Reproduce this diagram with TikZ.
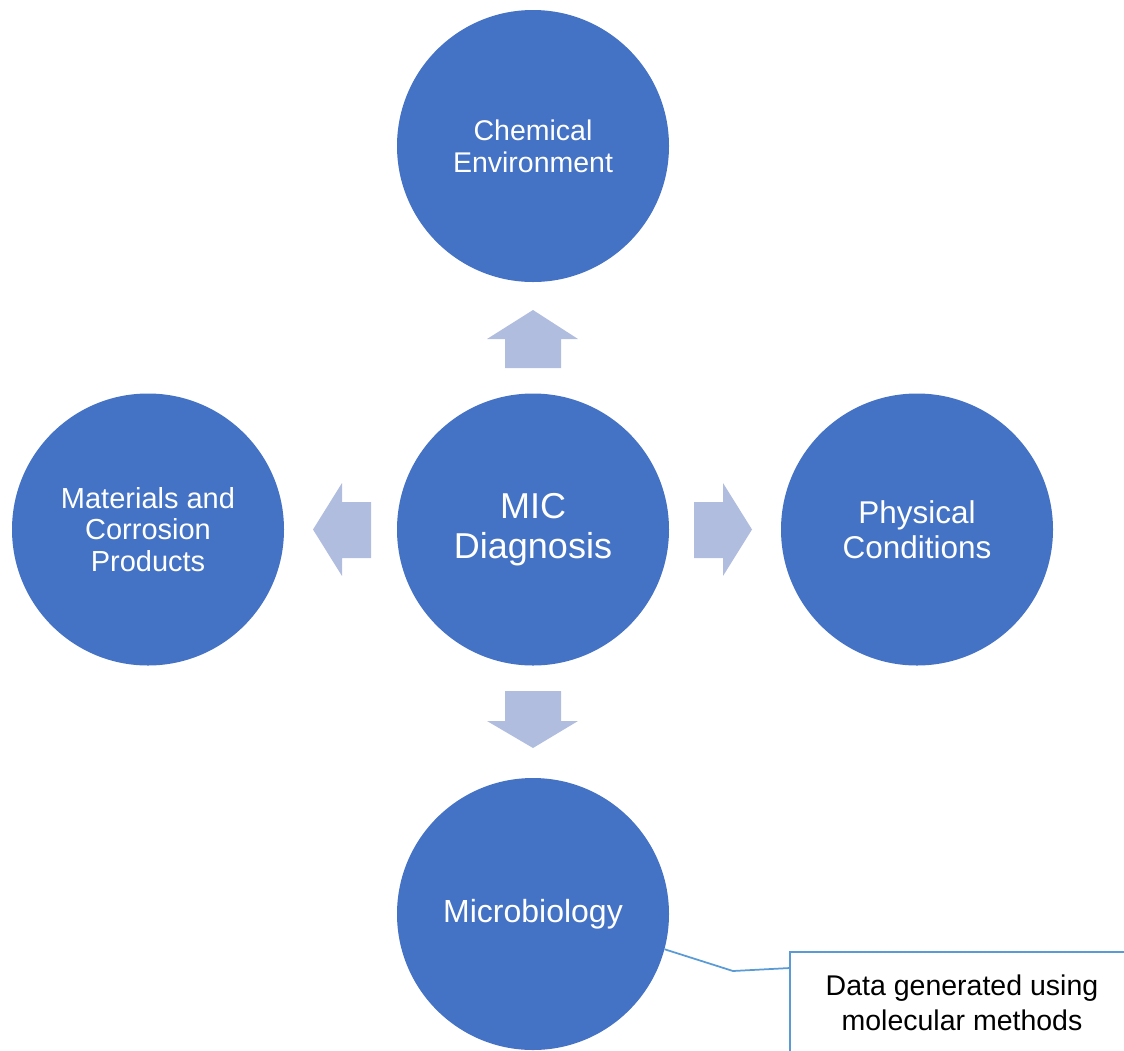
\documentclass[tikz,border=0pt]{standalone}
\usepackage{fontspec}
\setmainfont{Liberation Sans}
\definecolor{circblue}{HTML}{4472C4}
\definecolor{arrowblue}{HTML}{B0BDDF}
\definecolor{lineblue}{HTML}{5B9BD5}
\begin{document}
\begin{tikzpicture}[x=1pt,y=-1pt,
  bigcirc/.style={circle, fill=circblue, draw=none, minimum size=272pt, inner sep=0pt, text=white, align=center},
  blockarrow/.style={fill=arrowblue, draw=none},
  calloutline/.style={draw=lineblue, line width=2pt}
]
\useasboundingbox (0,0) rectangle (1124,1050);
% circles
\node[bigcirc, font=\fontsize{36}{40}\selectfont] (mic) at (533,529.5) {MIC\\Diagnosis};
\node[bigcirc, font=\fontsize{28.5}{32}\selectfont] (chem) at (533,146) {Chemical\\Environment};
\node[bigcirc, font=\fontsize{29}{31.5}\selectfont] (mat) at (148,529.5) {Materials and\\Corrosion\\Products};
\node[bigcirc, font=\fontsize{31.5}{35}\selectfont] (phys) at (917,529.5) {Physical\\Conditions};
\node[bigcirc, font=\fontsize{32}{35}\selectfont] (micro) at (533,914) {Microbiology};
% block arrows
\fill[blockarrow] (505,368) -- (505,339) -- (487,339) -- (533,310) -- (578,339) -- (561,339) -- (561,368) -- cycle;
\fill[blockarrow] (505,691) -- (505,721) -- (487,721) -- (533,748) -- (578,721) -- (561,721) -- (561,691) -- cycle;
\fill[blockarrow] (371,502) -- (342,502) -- (342,483) -- (313,529.5) -- (342,576) -- (342,558) -- (371,558) -- cycle;
\fill[blockarrow] (694,502) -- (723,502) -- (723,483) -- (752,529.5) -- (723,576) -- (723,558) -- (694,558) -- cycle;
% callout
\node[font=\fontsize{28.5}{35}\selectfont, align=center, text=black] (note) at (962,1003) {Data generated using\\molecular methods};
\coordinate (boxleft) at (790,968);
\coordinate (bend) at (733,971);
\draw[calloutline] (790,1060) -- (790,952) -- (1130,952);
\draw[lineblue, line width=1.75pt] (micro.-15.5) -- (bend) -- (boxleft);
\end{tikzpicture}
\end{document}
